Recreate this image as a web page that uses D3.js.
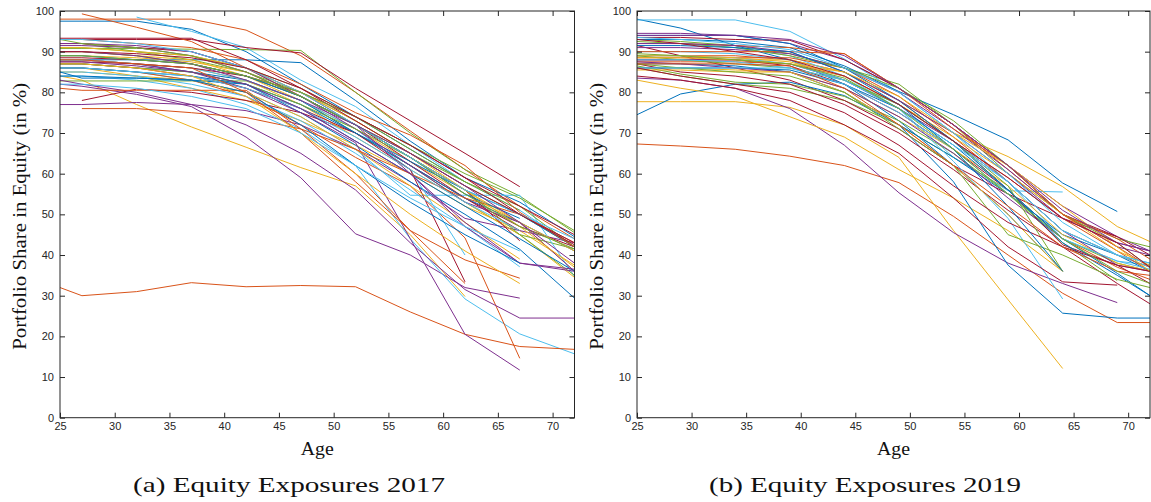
<!DOCTYPE html>
<html>
<head>
<meta charset="utf-8">
<script src="https://cdn.jsdelivr.net/npm/d3@7/dist/d3.min.js"></script>
<style>
  html, body { margin: 0; padding: 0; background: #fff; }
  svg { display: block; }
  .tick text { font-family: "Liberation Sans", Arial, sans-serif; font-size: 11px; fill: #262626; }
  .tick line { stroke: #262626; }
  .domain { display: none; }
  .lbl { font-family: "Liberation Serif", "DejaVu Serif", serif; fill: #111; }
</style>
</head>
<body>
<svg id="chart" width="1151" height="502"></svg>
<script>
// Age grid of each glide-path table
const ages2017 = [25, 27, 32, 37, 42, 47, 52, 57, 62, 67, 72];
const ages2019 = [25, 29, 34, 39, 44, 49, 54, 59, 64, 69, 72];

// Equity share (%) per target-date fund, one row per fund, null where the fund has no value
const funds2017 = [
  [97.5, 97.5, 97.5, 95.5, 90, 82, 74, 66, 58, null, null],
  [98, 98, 98, 98, 95.3, 89, 80, 70.5, 61, 52, 44],
  [84, 83, 77, 71.5, 66.5, 61.5, 57, 45, 29.8, null, null],
  [82, 81.5, 79.5, 76.5, 69, 59, 45.2, 40, 32, 29.4, null],
  [90.8, 90.8, 90.8, 90.6, 90.5, 90.3, 80, 70, 61, 54.5, 45.5],
  [null, null, 98.5, 95, 91, 83, 76.5, 67, 58, 51, 42],
  [93, 93, 93, 93, 91, 89.7, 81, 73, 65, 56.8, null],

  [88, 88, 88, 88, 88, 87.3, 78, 68, 59, 53, 44.5],
  [null, 99.3, 96, 92.5, 86, 79, 72, 64, 56, null, null],
  [86, 86, 84, 81, 78, 73, 67, 60, 52, 46, 37.5],
  [77, 77, 77.5, 77, 75.5, 72, 66, 58, 49, 46, 43],
  [92, 92, 90, 88, 85, 80, 73, 65, 57, 50, 42],
  [84, 84, 83, 81, 77, 71, 62, 44, 29.2, 20.6, 15.7],
  [null, 78, 80.8, 80, 78, 75, 70, 62, 54, 47, 42],

  [88, 88, 87, 85, 82, 75, 67, 58, 50, 41.4, 29.4],
  [32, 30, 31, 33.2, 32.2, 32.5, 32.2, 26, 20.5, 17.5, 16.8],
  [90, 90, 89, 88, 84, 78, 71, 63, 55, 48, 36],
  [88, 88, 87, 85, 81, 75, 67.6, 44, 20.5, 11.7, null],
  [82.8, 82.8, 82.8, 82.8, 82.8, 78, 70, 62, 53, 45, 41.5],
  [86, 86, 85, 83, 80, 74, 66, 54.7, 54.7, 54.7, 34.7],
  [92, 92, 91, 90, 86, 80, 72, 63, 54, 46, null],

  [87, 87, 86, 85, 83, 78, 70, 62, 54, 48, 41],
  [86, 86, 85, 83, 79, 72, 64, 57, 44.2, 14.6, null],
  [88, 88, 87, 86, 83, 77, 69, 61, 53, 45, 34.5],
  [83, 82, 80, 77, 72, 65, 56, 43, 31.5, 24.5, 24.5],
  [91, 91, 90, 89, 86, 81, 74, 66, 58, 51, null],
  [88, 88, 87, 86, 83, 78, 71, 61, 40, null, null],
  [87, 87, 86, 84, 81, 76, 70, 61, 33.4, null, null],

  [86, 86, 85, 84, 82, 77, 70, 63, 56, 50, 42],
  [81, 80.5, 80.5, 80.5, 80.5, 71, 60, 46, 38.8, 34.3, null],
  [85, 85, 84, 83, 80, 74, 66, 57, 48, 39, null],
  [92, 92, 91.5, 90, 86, 79, 71, 62, 53, 48, 36],
  [87, 87, 86, 85, 82, 77, 71, 64, 56, 45, 35],
  [85, 85, 84, 82, 79, 73, 65, 56, 47, 37.1, null],
  [88.5, 88.5, 88, 87, 84, 79, 72, 64, 56, 43.5, null],

  [85, 83.5, 83.5, 83, 82, 76, 68, 60, 52, 44, 36],
  [null, 76, 76, 75, 73.8, 71, 66, 60, 54, 50, 43],
  [89, 89, 88.5, 87.5, 85, 79, 72, 64, 56, 48, 41],
  [91.5, 91.5, 91, 89, 85, 79, 72, 60, 47, 38, 36],
  [90, 90, 89, 87, 84, 79, 72, 65, 58, 52, 42],
  [86, 86, 85, 84, 81, 76, 69, 61, 53, 46, null],
  [87.5, 87.5, 87, 86, 84, 80, 74, 67, 59, 50, 43],

  [89, 89, 88, 87, 84, 79, 72, 64, 55, 49, null],
  [93, 93, 92, 91, 88, 82, 75, 69.5, 62, 50.5, 42],
  [91, 91, 90, 89, 86, 80, 73, 65, 56, 47, 37],
  [87.5, 87.5, 86.5, 85, 82, 76, 68, 60, 48, 38, 36.5],
  [93, 92, 91, 89, 85, 79, 72, 64, 55, 47, 41.5],
  [93, 93, 92, 90, 86, 80, 72, 64, 56, 50, 44],
  [93.3, 93.3, 93.3, 93.3, 88, 81, 73, 65, 57, 50, 42.5],

  [84, 84, 83.5, 83, 80, 72, 62, 53, 45, 38, null],
  [88, 88, 87, 86, 80, 70, 58, 46, 33, null, null],
  [87, 87, 86, 84, 79, 70, 60, 50, 41, 33, null],
  [90, 90, 89, 87, 83, 78, 72, 65, 57, 48, 38],
  [89, 89, 88, 87, 84, 80, 74, 67, 60, 54, 46],
  [82, 82, 81, 79, 76, 70, 62, 54, 47, 41, null],
  [90, 90, 89.5, 88.5, 86, 81, 74, 67, 59, 52, 45]
];

const funds2019 = [
  [98, 95.8, 91.5, 88, 82, 73, 62, 50, 36, null, null],
  [67.3, 66.8, 66, 64.3, 62, 57.8, 49.5, 40, 30.6, 23.4, 23.4],
  [77.7, 77.7, 77.7, 76.3, 72, 64, 46, 29, 12.1, null, null],
  [94.5, 94.5, 94, 92, 88, 81, 72, 62, 52, 44.5, 41],
  [93, 92.5, 91.5, 89.5, 86, 82, 72, 60, 50, 44, 42],
  [97.8, 97.8, 97.8, 95, 88.2, 80, 70, 58, 44, 38.5, 37.5],
  [93.5, 93.5, 93, 92.8, 88, 81, 72, 62, 50, 44.5, null],

  [93, 93, 92.5, 91, 86.5, 80.2, 74.5, 68.3, 57.7, 50.7, null],
  [89, 89, 89, 88, 85, 78, 68, 56, 44, 37, 34],
  [88, 88, 88, 88, 85, 78, 70, 64.2, 56.8, 47, 43.3],
  [83.5, 83, 81, 76, 67, 55.3, 45.5, 38, 33, 28.3, null],
  [86, 84, 82, 81, 78, 72, 64, 56, 44, 38, 36],
  [90, 90, 89.5, 88, 83, 76, 64, 55.8, 55.5, null, null],
  [91.5, 89, 86, 83, 78, 71, 62, 55, 49, 44.5, 40],

  [74.5, 79.6, 82, 82.5, 79.2, 72, 64, 55, 45, 40, 36],
  [92, 92, 91.5, 91, 89.5, 81, 72, 61, 50, 44, 39],
  [83, 81, 79, 74, 69, 61, 54, 46, 36, null, null],
  [91, 91, 90.5, 89.5, 86, 80, 71, 61, 50, 42, 40],
  [86.5, 84.5, 82.5, 82, 79, 73, 65, 55, 43, 33.7, null],
  [92, 92, 91, 89, 84, 76, 63, 49, 29.2, null, null],
  [88, 88, 88, 86.5, 82, 75, 66, 56, 42.5, 37.5, 33],

  [87, 87, 86.5, 85, 80, 72, 58, 37.5, 25.7, 24.5, 24.5],
  [88.5, 88.5, 88.5, 88.5, 86, 79, 69, 58, 46, 40, 37],
  [86, 86, 85.5, 85, 81, 74, 66, 57, 45, 38, 36],
  [88, 88, 88, 87, 83, 76, 68, 58, 46, 37.5, 36],
  [92.5, 92, 91, 89, 86, 81, 73, 62, 50, 43, 37],
  [89, 89, 88.5, 87, 83, 77, 68, 58, 46, 40, 37],
  [87, 85, 84, 82, 77, 70, 61, 51, 42, 33, 28],

  [86, 86, 86, 85.5, 82, 76, 67, 56, 44, 35.5, 30],
  [87.5, 87.5, 87.5, 87, 84, 77, 68, 59, 49, 41, 36],
  [89, 89, 88.5, 87.5, 84, 77, 69, 60, 50, 41, 37.5],
  [87.5, 87, 86, 85, 81, 74, 65, 54, 44, null, null],
  [89, 88, 87, 86, 83, 77, 68, 57, 36, null, null],
  [88, 88, 87.5, 86, 82, 75, 66, 55, 44, 38.5, 36.5],
  [84, 83, 81, 78, 72, 65, 54, 42, 33.4, 32.6, null],

  [94, 94, 94, 92, 86, 78, 68, 56, 43, 35, 30],
  [90, 90, 90, 90, 89.5, 81, 71, 62, 50, 42, 37],
  [85.5, 85.5, 85, 85, 80, 72, 62, 50, 36, null, null],
  [92, 92, 91.5, 90, 85, 78, 70, 60, 49, 43, 41],
  [87, 86, 85, 84, 80, 71, 62, 45, 40, 34, 32],
  [86, 86, 86, 86, 83, 76, 67, 58, 46, 40, 38],
  [86, 84, 82, 80, 75, 67, 57, 48, 42, 37.5, 36],

  [91.5, 91.5, 91, 90, 85, 77, 66, 52, 36, null, null],
  [87, 87, 87, 86.5, 81, 72, 62, 52, 42, 36, 35],
  [88.5, 88.5, 88, 87, 85, 79, 70, 62, 52, 42, 36],
  [94, 94, 94, 93, 89, 81, 72, 62, 51, 43, 41],
  [89.5, 89, 88, 87, 83.5, 76, 66, 55, 44, 36, 33],
  [93.5, 93, 92, 90.5, 86, 80, 70, 60, 48, 40, 38],
  [93, 92, 90, 88, 84, 77, 68, 59, 49, 43, 37]
];

const xTicks = [25, 30, 35, 40, 45, 50, 55, 60, 65, 70];
const yTicks = [0, 10, 20, 30, 40, 50, 60, 70, 80, 90, 100];
const captions = ["(a) Equity Exposures 2017", "(b) Equity Exposures 2019"];

// default line colour order, cycled through the funds
const lineColors = ["#0072BD", "#D95319", "#EDB120", "#7E2F8E", "#77AC30", "#4DBEEE", "#A2142F"];

const svg = d3.select("#chart");

function drawPanel(ages, funds, box, caption) {
  const x = d3.scaleLinear().domain([25, 72]).range([box.left, box.right]);
  const y = d3.scaleLinear().domain([0, 100]).range([box.bottom, box.top]);
  const g = svg.append("g");

  const line = d3.line()
    .defined(d => d.v !== null)
    .x(d => x(d.age))
    .y(d => y(d.v));

  g.append("g").selectAll("path")
    .data(funds)
    .join("path")
    .attr("d", row => line(row.map((v, i) => ({ age: ages[i], v }))))
    .attr("fill", "none")
    .attr("stroke", (row, i) => lineColors[i % lineColors.length])
    .attr("stroke-width", 1);

  // axes with inward ticks on all four sides
  g.append("g").attr("transform", `translate(0,${box.bottom})`)
    .call(d3.axisBottom(x).tickValues(xTicks).tickSizeInner(-5).tickSizeOuter(0).tickPadding(5));
  g.append("g").attr("transform", `translate(0,${box.top})`)
    .call(d3.axisTop(x).tickValues(xTicks).tickSizeInner(-5).tickSizeOuter(0).tickFormat(""));
  g.append("g").attr("transform", `translate(${box.left},0)`)
    .call(d3.axisLeft(y).tickValues(yTicks).tickSizeInner(-5).tickSizeOuter(0).tickPadding(6));
  g.append("g").attr("transform", `translate(${box.right},0)`)
    .call(d3.axisRight(y).tickValues(yTicks).tickSizeInner(-5).tickSizeOuter(0).tickFormat(""));

  g.append("rect")
    .attr("x", box.left).attr("y", box.top)
    .attr("width", box.right - box.left).attr("height", box.bottom - box.top)
    .attr("fill", "none").attr("stroke", "#262626").attr("stroke-width", 1);

  g.append("text").attr("class", "lbl")
    .attr("x", (box.left + box.right) / 2).attr("y", 455)
    .attr("text-anchor", "middle").attr("font-size", 19)
    .attr("textLength", 33).attr("lengthAdjust", "spacingAndGlyphs")
    .text("Age");

  g.append("text").attr("class", "lbl")
    .attr("transform", `translate(${box.left - 34},${(box.top + box.bottom) / 2 + 2}) rotate(-90)`)
    .attr("text-anchor", "middle").attr("font-size", 19)
    .attr("textLength", 267).attr("lengthAdjust", "spacingAndGlyphs")
    .text("Portfolio Share in Equity (in %)");

  g.append("text").attr("class", "lbl")
    .attr("x", box.captionX).attr("y", 492)
    .attr("text-anchor", "middle").attr("font-size", 22)
    .attr("textLength", 312).attr("lengthAdjust", "spacingAndGlyphs")
    .text(caption);
}

drawPanel(ages2017, funds2017, { left: 60, right: 574.5, top: 11, bottom: 417.7, captionX: 289 }, captions[0]);
drawPanel(ages2019, funds2019, { left: 637, right: 1150, top: 11, bottom: 417.7, captionX: 865 }, captions[1]);
</script>
</body>
</html>
